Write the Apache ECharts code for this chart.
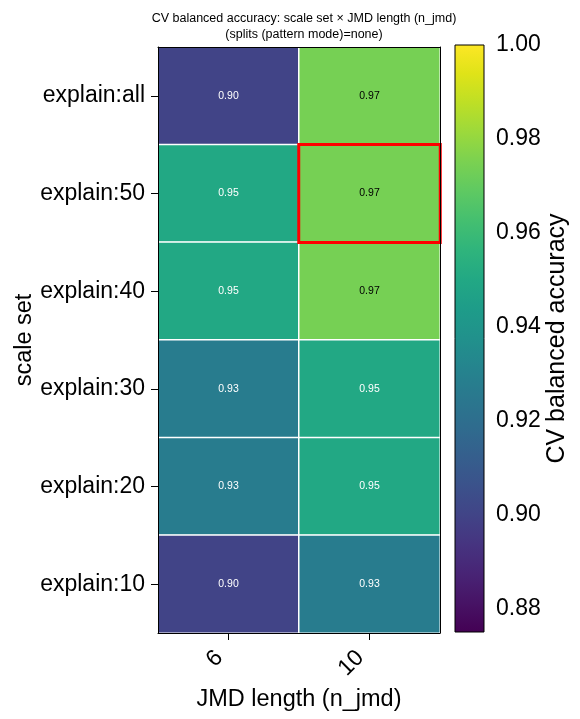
<!DOCTYPE html>
<html>
<head>
<meta charset="utf-8">
<script src="https://cdn.jsdelivr.net/npm/echarts@6/dist/echarts.min.js"></script>
<style>
html,body{margin:0;padding:0;background:#fff;}
#chart{width:580px;height:719px;}
</style>
</head>
<body>
<div id="chart"></div>
<script>
// ---- data ----
var scaleSets = ['explain:all', 'explain:50', 'explain:40', 'explain:30', 'explain:20', 'explain:10'];
var jmdLengths = ['6', '10'];
var accJmd6  = [0.900, 0.950, 0.950, 0.927, 0.927, 0.900];
var accJmd10 = [0.974, 0.974, 0.974, 0.950, 0.950, 0.927];
var colorbarTicks = [0.88, 0.90, 0.92, 0.94, 0.96, 0.98, 1.00];
var colorMin = 0.875, colorMax = 1.0;
var bestCell = {scaleSet: 'explain:50', jmd: '10'};
var viridis = ['#440154','#471365','#482475','#463480','#414487','#3b528b','#355f8d','#2f6c8e',
  '#2a788e','#25848e','#21918c','#1e9c89','#22a884','#2fb47c','#44bf70','#5ec962',
  '#7ad151','#9bd93c','#bddf26','#dfe318','#fde725'];

var FONT = '"Liberation Sans", Arial, Helvetica, sans-serif';
var columns = [accJmd6, accJmd10];
var heatData = [];
columns.forEach(function (col, xi) {
  col.forEach(function (v, yi) {
    heatData.push({
      value: [xi, yi, v],
      label: {color: v > 0.96 ? '#000' : '#fff'}
    });
  });
});
var bestIdx = [jmdLengths.indexOf(bestCell.jmd), scaleSets.indexOf(bestCell.scaleSet)];
var bestVal = columns[bestIdx[0]][bestIdx[1]];

var stops = viridis.map(function (c, i) { return {offset: i / (viridis.length - 1), color: c}; });

var chart = echarts.init(document.getElementById('chart'), null, {renderer: 'canvas'});
chart.setOption({
  animation: false,
  backgroundColor: '#fff',
  textStyle: {fontFamily: FONT},
  title: {
    text: 'CV balanced accuracy: scale set \u00d7 JMD length (n_jmd)\n(splits (pattern mode)=none)',
    left: 299, top: 6, textAlign: 'center',
    textStyle: {fontSize: 12.5, fontWeight: 'normal', color: '#000', fontFamily: FONT, lineHeight: 16}
  },
  grid: [
    {left: 158, right: 140, top: 47, bottom: 86},
    {left: 455, width: 29, top: 45, bottom: 87}
  ],
  visualMap: {
    show: false, type: 'continuous', min: colorMin, max: colorMax,
    seriesIndex: 0, dimension: 2, inRange: {color: viridis}
  },
  xAxis: [
    {
      type: 'category', data: jmdLengths, gridIndex: 0, z: 10,
      name: 'JMD length (n_jmd)', nameLocation: 'middle', nameGap: 50,
      nameTextStyle: {fontSize: 23.5, color: '#000', fontFamily: FONT},
      axisLine: {show: true, lineStyle: {color: '#000', width: 1}},
      axisTick: {show: true, alignWithLabel: true, length: 7, lineStyle: {color: '#000'}},
      axisLabel: {rotate: 45, fontSize: 23, color: '#000', margin: 12, padding: [0, 13, 0, 0], fontFamily: FONT},
      splitLine: {show: false}
    },
    {
      type: 'category', data: jmdLengths, gridIndex: 0, position: 'top', z: 10,
      axisLine: {show: true, lineStyle: {color: '#000', width: 1}},
      axisTick: {show: false}, axisLabel: {show: false}, splitLine: {show: false}
    },
    {
      type: 'value', gridIndex: 1, min: 0, max: 1, show: false
    }
  ],
  yAxis: [
    {
      type: 'category', data: scaleSets, gridIndex: 0, inverse: true, z: 10,
      name: 'scale set', nameLocation: 'middle', nameGap: 121, nameRotate: 90,
      nameTextStyle: {fontSize: 23.5, color: '#000', fontFamily: FONT},
      axisLine: {show: true, lineStyle: {color: '#000', width: 1}},
      axisTick: {show: true, alignWithLabel: true, length: 7, lineStyle: {color: '#000'}},
      axisLabel: {fontSize: 23, color: '#000', margin: 13, fontFamily: FONT},
      splitLine: {show: false}
    },
    {
      type: 'category', data: scaleSets, gridIndex: 0, inverse: true, position: 'right', z: 10,
      axisLine: {show: true, lineStyle: {color: '#000', width: 1}},
      axisTick: {show: false}, axisLabel: {show: false}, splitLine: {show: false}
    },
    {
      type: 'value', gridIndex: 1, min: colorMin, max: colorMax, position: 'right',
      name: 'CV balanced accuracy', nameLocation: 'middle', nameGap: 61, nameRotate: 90,
      nameTextStyle: {fontSize: 25, color: '#000', fontFamily: FONT},
      axisLine: {show: false},
      axisTick: {show: true, length: 7, lineStyle: {color: '#000'}, customValues: colorbarTicks},
      axisLabel: {fontSize: 23, color: '#000', margin: 12, fontFamily: FONT,
        customValues: colorbarTicks, formatter: function (v) { return v.toFixed(2); }},
      splitLine: {show: false}
    }
  ],
  series: [
    {
      type: 'heatmap', xAxisIndex: 0, yAxisIndex: 0, data: heatData,
      itemStyle: {borderColor: '#fff', borderWidth: 1.5},
      label: {show: true, fontSize: 10.5, fontFamily: FONT,
        formatter: function (p) { return p.value[2].toFixed(2); }},
      emphasis: {disabled: true}
    },
    {
      type: 'heatmap', xAxisIndex: 0, yAxisIndex: 0, z: 5,
      data: [[bestIdx[0], bestIdx[1], bestVal]],
      itemStyle: {color: 'rgba(0,0,0,0)', borderColor: '#ff0000', borderWidth: 3},
      label: {show: false}, emphasis: {disabled: true}
    },
    {
      type: 'custom', xAxisIndex: 2, yAxisIndex: 2, data: [[0, colorMin]],
      renderItem: function (params, api) {
        var cs = params.coordSys;
        return {
          type: 'rect',
          shape: {x: cs.x, y: cs.y, width: cs.width, height: cs.height},
          style: {fill: new echarts.graphic.LinearGradient(0, 1, 0, 0, stops), stroke: '#000', lineWidth: 1}
        };
      }
    }
  ]
});
</script>
</body>
</html>
